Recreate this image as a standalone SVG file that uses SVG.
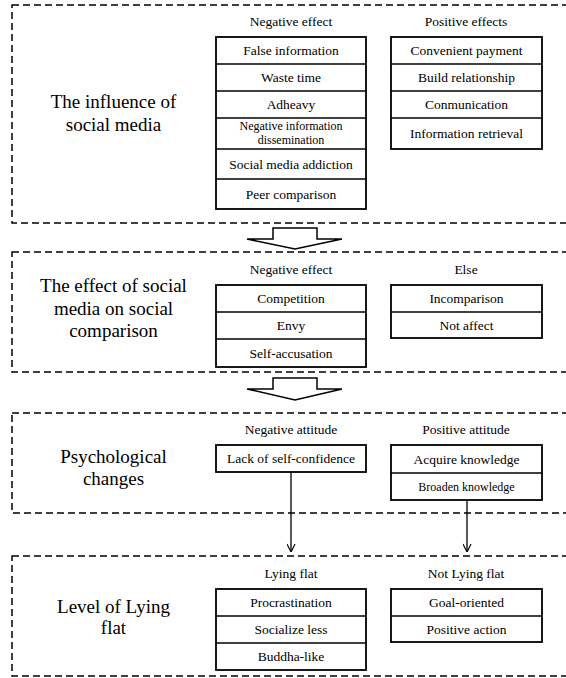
<svg xmlns="http://www.w3.org/2000/svg" width="566" height="678" viewBox="0 0 566 678">
<style>
.sec{fill:none;stroke:#000;stroke-width:1.5;stroke-dasharray:7,4}
.box{fill:#fff;stroke:#000;stroke-width:1.8}
.sep{stroke:#000;stroke-width:1.5}
.t{font-family:"Liberation Serif",serif;font-size:13.5px;text-anchor:middle;fill:#000}
.s{font-family:"Liberation Serif",serif;font-size:12px;text-anchor:middle;fill:#000}
.lbl{font-family:"Liberation Serif",serif;font-size:19px;text-anchor:middle;fill:#000}
.conn{fill:none;stroke:#000;stroke-width:1.3}
.blk{fill:#fff;stroke:#000;stroke-width:1.5;stroke-linejoin:miter}
</style>
<defs>
<marker id="ah" viewBox="0 0 10 10" refX="9.5" refY="5" markerWidth="9" markerHeight="9" markerUnits="userSpaceOnUse" orient="auto">
<path d="M0.5,0.5 L9.5,5 L0.5,9.5" fill="none" stroke="#000" stroke-width="1.3"/>
</marker>
</defs>
<rect fill="#fff" x="0" y="0" width="566" height="678"/>

<g id="sec1">
<rect class="sec" x="12" y="5" width="570" height="218"/>
<text class="lbl" font-family="Liberation Serif" x="113.5" y="108">The influence of</text>
<text class="lbl" font-family="Liberation Serif" x="113.5" y="131">social media</text>
<text class="t" font-family="Liberation Serif" x="291" y="26">Negative effect</text>
<text class="t" font-family="Liberation Serif" x="466" y="26">Positive effects</text>
</g>
<g id="s1neg">
<rect class="box" x="216" y="37" width="150" height="172"/>
<line class="sep" x1="216" y1="64" x2="366" y2="64"/>
<line class="sep" x1="216" y1="91" x2="366" y2="91"/>
<line class="sep" x1="216" y1="118" x2="366" y2="118"/>
<line class="sep" x1="216" y1="149" x2="366" y2="149"/>
<line class="sep" x1="216" y1="179" x2="366" y2="179"/>
<text class="t" font-family="Liberation Serif" x="291" y="55">False information</text>
<text class="t" font-family="Liberation Serif" x="291" y="82">Waste time</text>
<text class="t" font-family="Liberation Serif" x="291" y="109">Adheavy</text>
<text class="s" font-family="Liberation Serif" x="291" y="130">Negative information</text>
<text class="s" font-family="Liberation Serif" x="291" y="144">dissemination</text>
<text class="t" font-family="Liberation Serif" x="291" y="168.5">Social media addiction</text>
<text class="t" font-family="Liberation Serif" x="291" y="198.5">Peer comparison</text>
</g>
<g id="s1pos">
<rect class="box" x="391" y="37" width="151" height="112"/>
<line class="sep" x1="391" y1="64" x2="542" y2="64"/>
<line class="sep" x1="391" y1="91" x2="542" y2="91"/>
<line class="sep" x1="391" y1="118" x2="542" y2="118"/>
<text class="t" font-family="Liberation Serif" x="466.5" y="55">Convenient payment</text>
<text class="t" font-family="Liberation Serif" x="466.5" y="82">Build relationship</text>
<text class="t" font-family="Liberation Serif" x="466.5" y="109">Conmunication</text>
<text class="t" font-family="Liberation Serif" x="466.5" y="138">Information retrieval</text>
</g>

<g id="sec2">
<rect class="sec" x="12" y="252" width="570" height="120"/>
<text class="lbl" font-family="Liberation Serif" x="113.5" y="292">The effect of social</text>
<text class="lbl" font-family="Liberation Serif" x="113.5" y="314.5">media on social</text>
<text class="lbl" font-family="Liberation Serif" x="113.5" y="337">comparison</text>
<text class="t" font-family="Liberation Serif" x="291" y="274">Negative effect</text>
<text class="t" font-family="Liberation Serif" x="466" y="274">Else</text>
</g>
<g id="s2neg">
<rect class="box" x="216" y="285" width="150" height="82"/>
<line class="sep" x1="216" y1="312" x2="366" y2="312"/>
<line class="sep" x1="216" y1="339" x2="366" y2="339"/>
<text class="t" font-family="Liberation Serif" x="291" y="303">Competition</text>
<text class="t" font-family="Liberation Serif" x="291" y="330">Envy</text>
<text class="t" font-family="Liberation Serif" x="291" y="357.5">Self-accusation</text>
</g>
<g id="s2pos">
<rect class="box" x="391" y="285" width="151" height="53"/>
<line class="sep" x1="391" y1="312" x2="542" y2="312"/>
<text class="t" font-family="Liberation Serif" x="466.5" y="303">Incomparison</text>
<text class="t" font-family="Liberation Serif" x="466.5" y="329.5">Not affect</text>
</g>

<g id="sec3">
<rect class="sec" x="12" y="413" width="570" height="100"/>
<text class="lbl" font-family="Liberation Serif" x="113.5" y="463">Psychological</text>
<text class="lbl" font-family="Liberation Serif" x="113.5" y="485">changes</text>
<text class="t" font-family="Liberation Serif" x="291" y="434">Negative attitude</text>
<text class="t" font-family="Liberation Serif" x="466" y="434">Positive attitude</text>
</g>
<g id="s3neg">
<rect class="box" x="216" y="445" width="150" height="27"/>
<text class="t" font-family="Liberation Serif" x="291" y="463">Lack of self-confidence</text>
</g>
<g id="s3pos">
<rect class="box" x="391" y="445" width="151" height="55"/>
<line class="sep" x1="391" y1="473" x2="542" y2="473"/>
<text class="t" font-family="Liberation Serif" x="466.5" y="463.5">Acquire knowledge</text>
<text class="s" font-family="Liberation Serif" x="466.5" y="490.5">Broaden knowledge</text>
</g>

<g id="sec4">
<rect class="sec" x="12" y="556" width="570" height="120"/>
<text class="lbl" font-family="Liberation Serif" x="113.5" y="613">Level of Lying</text>
<text class="lbl" font-family="Liberation Serif" x="113.5" y="634">flat</text>
<text class="t" font-family="Liberation Serif" x="291" y="578">Lying flat</text>
<text class="t" font-family="Liberation Serif" x="466" y="578">Not Lying flat</text>
</g>
<g id="s4neg">
<rect class="box" x="216" y="589" width="150" height="81"/>
<line class="sep" x1="216" y1="616" x2="366" y2="616"/>
<line class="sep" x1="216" y1="643" x2="366" y2="643"/>
<text class="t" font-family="Liberation Serif" x="291" y="607">Procrastination</text>
<text class="t" font-family="Liberation Serif" x="291" y="634">Socialize less</text>
<text class="t" font-family="Liberation Serif" x="291" y="661">Buddha-like</text>
</g>
<g id="s4pos">
<rect class="box" x="391" y="589" width="151" height="53"/>
<line class="sep" x1="391" y1="616" x2="542" y2="616"/>
<text class="t" font-family="Liberation Serif" x="466.5" y="607">Goal-oriented</text>
<text class="t" font-family="Liberation Serif" x="466.5" y="633.5">Positive action</text>
</g>

<g id="connectors">
<polygon class="blk" points="273,228 317,228 317,239 342,239 295,249 247,239 273,239"/>
<polygon class="blk" points="273,378 317,378 317,389 342,389 295,400 247,389 273,389"/>
<line class="conn" x1="291" y1="472" x2="291" y2="552" marker-end="url(#ah)"/>
<line class="conn" x1="467" y1="500" x2="467" y2="552" marker-end="url(#ah)"/>
</g>
</svg>
